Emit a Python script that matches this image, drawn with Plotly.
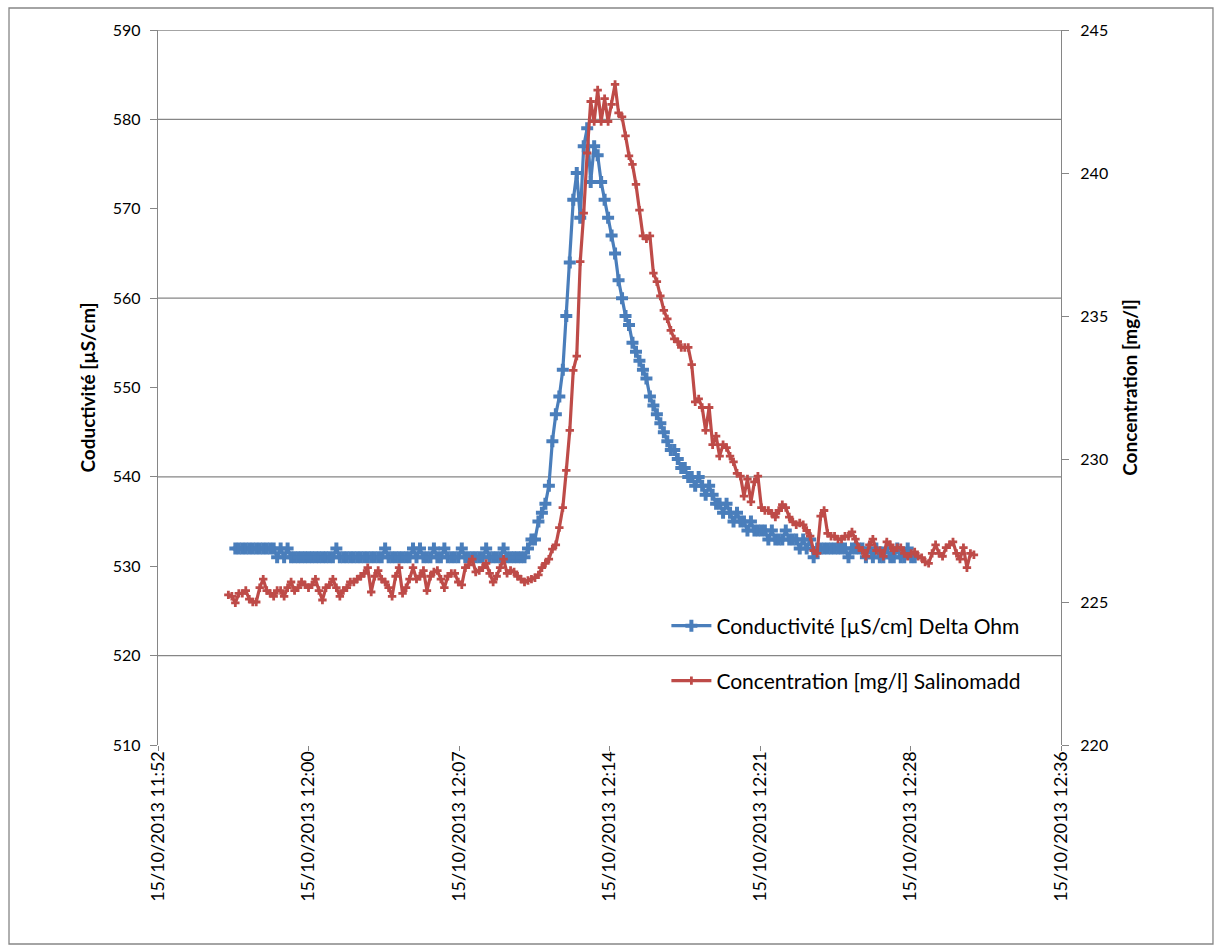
import pandas as pd
import plotly.graph_objects as go

# ---------------- data ----------------
blue_start = "2013-10-15 11:56:30"
red_start = "2013-10-15 11:56:10"
sample_step = "10s"

conductivite = [
    532, 532, 532, 532, 532, 532, 532, 532, 532, 532,
    532, 532, 531, 532, 531, 532, 531, 531, 531, 531,
    531, 531, 531, 531, 531, 531, 531, 531, 531, 532,
    531, 531, 531, 531, 531, 531, 531, 531, 531, 531,
    531, 531, 531, 532, 531, 531, 531, 531, 531, 531,
    531, 532, 531, 532, 531, 531, 531, 532, 531, 531,
    532, 531, 531, 531, 531, 532, 531, 531, 531, 531,
    531, 531, 532, 531, 531, 531, 531, 532, 531, 531,
    531, 531, 531, 531, 532, 533, 533, 535, 536, 537,
    539, 544, 547, 549, 552, 558, 564, 571, 574, 569,
    577, 579, 573, 577, 576, 573, 571, 569, 567, 565,
    562, 560, 558, 557, 555, 554, 553, 552, 551, 549,
    548, 547, 546, 545, 544, 543, 543, 542, 541, 541,
    540, 540, 539, 540, 539, 538, 539, 538, 537, 537,
    536, 537, 536, 535, 536, 535, 535, 534, 535, 534,
    534, 534, 534, 533, 534, 533, 533, 533, 534, 533,
    533, 533, 532, 533, 532, 533, 531, 532, 532, 532,
    532, 532, 532, 532, 532, 532, 531, 532, 532, 532,
    532, 531, 532, 531, 532, 531, 531, 532, 531, 531,
    532, 531, 531, 532, 531, 531,
]

concentration = [
    225.25, 225.2, 224.97, 225.3, 225.3, 225.4, 225.1, 225.0, 225.0, 225.5,
    225.8, 225.4, 225.3, 225.2, 225.4, 225.4, 225.2, 225.5, 225.7, 225.4,
    225.5, 225.7, 225.6, 225.5, 225.6, 225.8, 225.4, 225.07, 225.5, 225.6,
    225.8, 225.5, 225.2, 225.4, 225.5, 225.7, 225.7, 225.8, 225.9, 226.0,
    226.2, 225.35, 225.9, 226.1, 225.8, 225.7, 225.5, 225.2, 225.9, 226.2,
    225.3, 225.5, 225.8, 226.2, 225.8, 225.9, 226.1, 225.4, 225.9, 226.05,
    226.1, 225.8, 225.5, 225.9, 226.0, 226.0, 225.7, 225.6, 226.2, 226.3,
    226.5, 226.05, 226.1, 226.2, 226.35, 226.0, 225.7, 225.9, 226.2, 226.5,
    226.0, 226.1, 226.05, 225.9, 225.8, 225.7, 225.75, 225.8, 225.85, 225.95,
    226.2, 226.35, 226.5, 226.85, 227.0, 227.6, 228.3, 229.6, 231.0, 233.1,
    233.6, 236.9, 238.6, 240.7, 242.5, 241.8, 242.9, 241.8, 242.6, 241.8,
    242.4, 243.1, 242.1, 241.96, 241.3, 240.6, 240.3, 239.6, 238.7, 237.8,
    237.7, 237.8, 236.5, 236.2, 235.7, 235.2, 234.9, 234.5, 234.2, 234.1,
    233.9, 233.9, 233.9, 233.3, 232.0, 232.1, 231.8, 231.0, 231.8, 230.5,
    230.8, 230.1, 230.5, 230.4, 230.1, 229.9, 229.5, 229.4, 228.7, 229.3,
    228.5, 229.2, 229.4, 228.3, 228.2, 228.2, 228.1, 227.97, 228.2, 228.4,
    228.3, 227.97, 227.8, 227.7, 227.76, 227.7, 227.5, 227.3, 226.8, 226.7,
    228.0, 228.2, 227.4, 227.3, 227.3, 227.2, 227.2, 227.3, 227.3, 227.45,
    227.2, 226.9, 226.8, 226.6, 227.0, 227.2, 226.8, 226.8, 226.6, 227.1,
    227.0, 226.8, 226.9, 226.9, 226.7, 226.6, 226.7, 226.75, 226.6, 226.55,
    226.4, 226.35, 226.7, 227.0, 226.7, 226.6, 226.9, 227.0, 227.1, 226.7,
    226.5, 226.9, 226.2, 226.7, 226.65,
]

x_tick_times = ["2013-10-15 11:52:48", "2013-10-15 12:00:00", "2013-10-15 12:07:12",
                "2013-10-15 12:14:24", "2013-10-15 12:21:36", "2013-10-15 12:28:48",
                "2013-10-15 12:36:00"]
x_tick_text = ["15/10/2013 11:52", "15/10/2013 12:00", "15/10/2013 12:07",
               "15/10/2013 12:14", "15/10/2013 12:21", "15/10/2013 12:28",
               "15/10/2013 12:36"]
left_ticks = [510, 520, 530, 540, 550, 560, 570, 580, 590]
right_ticks = [220, 225, 230, 235, 240, 245]
grid_levels = [520, 540, 560, 580, 590]

name_blue = "Conductivité [µS/cm] Delta Ohm"
name_red = "Concentration [mg/l] Salinomadd"

# ---------------- figure ----------------
t_blue = pd.date_range(blue_start, periods=len(conductivite), freq=sample_step)
t_red = pd.date_range(red_start, periods=len(concentration), freq=sample_step)

BLUE = "#4A7EBB"
RED = "#BE4B48"
GRID = "#868686"
FONT = "Lato"

fig = go.Figure()
fig.add_trace(go.Scatter(
    x=t_blue, y=conductivite, name=name_blue, mode="lines+markers",
    line=dict(color=BLUE, width=3.2),
    marker=dict(symbol="cross", size=10, color=BLUE),
    yaxis="y", legend="legend",
))
fig.add_trace(go.Scatter(
    x=t_red, y=concentration, name=name_red, mode="lines+markers",
    line=dict(color=RED, width=3.2),
    marker=dict(symbol="cross", size=7, color=RED),
    yaxis="y2", legend="legend2",
))

shapes = []
for g in grid_levels:
    shapes.append(dict(type="line", xref="paper", yref="y", x0=0, x1=1, y0=g, y1=g,
                       line=dict(color=GRID, width=1.3), layer="below"))
# outer chart border
shapes.append(dict(type="rect", xref="paper", yref="paper",
                   x0=-0.165, x1=1.1683, y0=-0.2783, y1=1.0308,
                   line=dict(color=GRID, width=1.3), fillcolor="rgba(0,0,0,0)", layer="below"))

fig.update_layout(
    width=1215, height=949,
    margin=dict(l=158, r=154, t=30, b=204),
    paper_bgcolor="white", plot_bgcolor="white",
    font=dict(family=FONT, size=16, color="black"),
    shapes=shapes,
    xaxis=dict(
        type="date",
        range=[x_tick_times[0], x_tick_times[-1]],
        tickmode="array", tickvals=x_tick_times, ticktext=x_tick_text,
        tickangle=-90, showgrid=False, zeroline=False, showline=False,
        ticks="outside", ticklen=5, tickcolor=GRID, ticklabelstandoff=-7,
        tickfont=dict(family=FONT, size=18, color="black"),
    ),
    yaxis=dict(
        range=[510, 590], tickmode="array", tickvals=left_ticks,
        showgrid=False, zeroline=False, showline=True, linecolor=GRID, linewidth=1.3,
        ticks="outside", ticklen=7, tickcolor=GRID, ticklabelstandoff=6,
        tickfont=dict(family=FONT, size=16),
        title=dict(text="<b>Coductivité [µS/cm]</b>", font=dict(family=FONT, size=19), standoff=12),
    ),
    yaxis2=dict(
        range=[220, 245], tickmode="array", tickvals=right_ticks,
        overlaying="y", side="right",
        showgrid=False, zeroline=False, showline=True, linecolor=GRID, linewidth=1.3,
        ticks="outside", ticklen=7, tickcolor=GRID, ticklabelstandoff=8,
        tickfont=dict(family=FONT, size=16),
        title=dict(text="<b>Concentration [mg/l]</b>", font=dict(family=FONT, size=19), standoff=16),
    ),
    legend=dict(x=0.563, y=0.1664, xanchor="left", yanchor="middle", itemwidth=40,
                bgcolor="rgba(0,0,0,0)", font=dict(family=FONT, size=21)),
    legend2=dict(x=0.563, y=0.0895, xanchor="left", yanchor="middle", itemwidth=40,
                 bgcolor="rgba(0,0,0,0)", font=dict(family=FONT, size=21)),
    showlegend=True,
)

fig.write_html("out.html")
